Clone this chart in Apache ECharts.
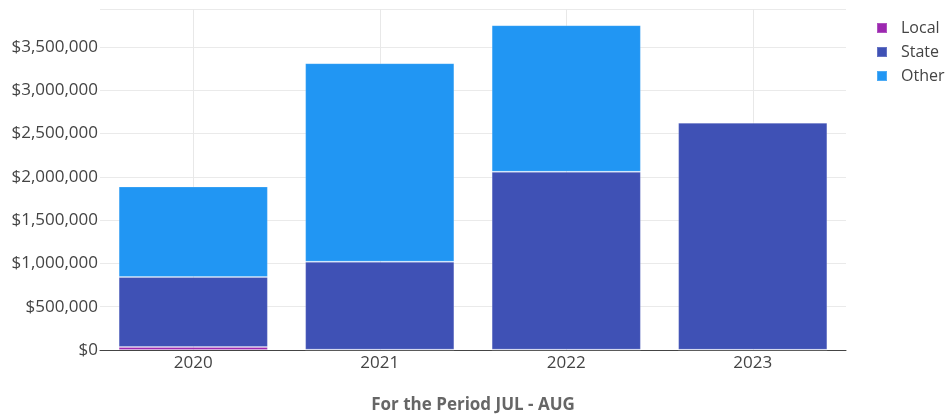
<!DOCTYPE html>
<html><head><meta charset="utf-8">
<script src="https://cdn.jsdelivr.net/npm/echarts@6/dist/echarts.min.js"></script>
<style>html,body{margin:0;padding:0;background:#fff}#c{width:946px;height:416px}</style>
</head><body><div id="c"></div>
<script>
const categories = ['2020', '2021', '2022', '2023'];
const localVals = [35000, 4000, 4000, 3000];
const stateVals = [808000, 1016000, 2055000, 2623000];
const otherVals = [1046000, 2294000, 1694000, 10000];
const seriesNames = ['Local', 'State', 'Other'];
const colors = ['#9c27b0', '#3f51b5', '#2196f3'];
const xTitle = 'For the Period JUL - AUG';

const font = "'Open Sans', 'Noto Sans', sans-serif";
const chart = echarts.init(document.getElementById('c'));
const mk = (name, data, color) => ({
  name, type: 'bar', stack: 'total', data,
  barCategoryGap: '20%',
  itemStyle: { color, borderColor: 'rgba(255,255,255,0.2)', borderWidth: 1 },
  emphasis: { disabled: true }
});
chart.setOption({
  animation: false,
  textStyle: { fontFamily: font },
  grid: { left: 100, right: 100, top: 9, bottom: 66, containLabel: false, outerBoundsMode: 'none' },
  legend: {
    orient: 'vertical', left: 871, top: 15, itemWidth: 10, itemHeight: 10, itemGap: 8,
    icon: 'rect', data: seriesNames,
    textStyle: { fontFamily: font, fontSize: 16, color: '#444', padding: [0, 0, 0, 9] }
  },
  xAxis: {
    type: 'category', data: categories,
    name: xTitle, nameLocation: 'middle', nameGap: 47,
    nameTextStyle: { fontFamily: font, fontSize: 17, fontWeight: 'bold', color: '#666' },
    axisLine: { lineStyle: { color: '#444', width: 1 } },
    axisTick: { show: false, alignWithLabel: true },
    axisLabel: { fontFamily: font, fontSize: 17, color: '#444', margin: 5 },
    splitLine: { show: true, alignWithLabel: true, lineStyle: { color: '#e8e8e8' } }
  },
  yAxis: {
    type: 'value', min: 0, max: 3940000, interval: 500000,
    axisLine: { show: false }, axisTick: { show: false },
    axisLabel: { fontFamily: font, fontSize: 17, color: '#444', margin: 2,
      formatter: v => v > 3600000 ? '' : '$' + v.toLocaleString('en-US') },
    splitLine: { lineStyle: { color: '#eaeaea' } }
  },
  series: [
    mk(seriesNames[0], localVals, colors[0]),
    mk(seriesNames[1], stateVals, colors[1]),
    mk(seriesNames[2], otherVals, colors[2])
  ]
});
</script></body></html>
